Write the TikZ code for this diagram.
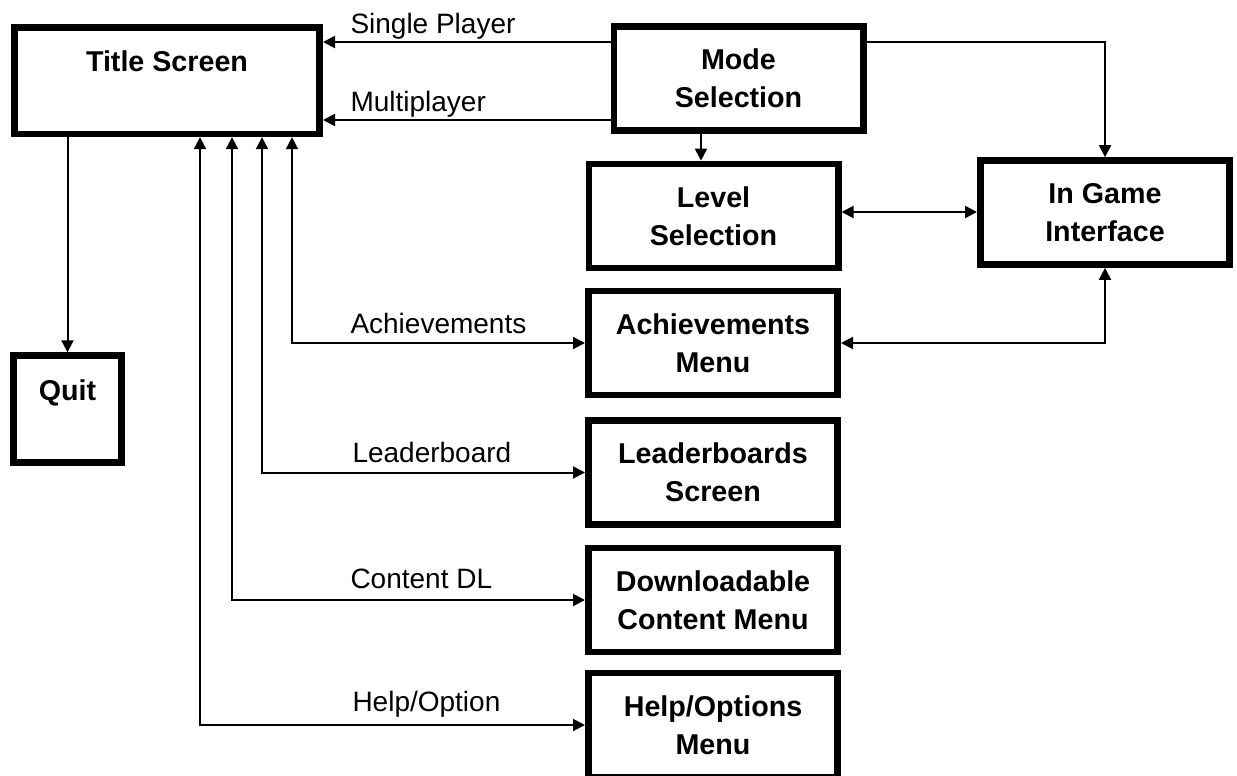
\documentclass[tikz,border=0pt]{standalone}
\usepackage{fontspec}
\setmainfont{Liberation Sans}
\usetikzlibrary{arrows.meta}

\tikzset{every picture/.style={line width=0.75pt}}
\tikzset{
  screen/.style={draw, line width=5pt, outer sep=2.5pt, inner sep=0pt, align=center,
    minimum width=187pt, minimum height=78pt, font=\fontsize{21.5}{28.5}\selectfont\bfseries},
  link/.style={line width=1.5pt, -{Triangle[length=9pt,width=9pt]}},
  twoway/.style={line width=1.5pt, {Triangle[length=9pt,width=9pt]}-{Triangle[length=9pt,width=9pt]}},
  lbl/.style={anchor=base west, inner sep=0pt, font=\fontsize{21}{25}\selectfont},
}

\begin{document}
\begin{tikzpicture}[x=0.75pt,y=0.75pt,yscale=-1]
\useasboundingbox (0,0) rectangle (1237,775);

%Screens
\node[screen, minimum width=229pt, minimum height=80pt] (title) at (167,80.5) {Title Screen\\\phantom{X}};
\node[screen] (mode) at (738.5,78.5) {Mode\\Selection};
\node[screen] (level) at (713.5,216) {Level\\Selection};
\node[screen] (ingame) at (1105,212.5) {In Game\\Interface};
\node[screen] (achiev) at (713,343) {Achievements\\Menu};
\node[screen] (leader) at (713,472.5) {Leaderboards\\Screen};
\node[screen] (dlc) at (713,600) {Downloadable\\Content Menu};
\node[screen] (help) at (713,725) {Help/Options\\Menu};
\node[screen, minimum width=81pt, minimum height=80pt] (quit) at (67.5,409) {Quit\\\phantom{X}};

%Rows and columns of the links
\coordinate (ysingle) at (0,42);
\coordinate (ymulti) at (0,120);
\coordinate (ylevel) at (0,212);
\coordinate (xlevel) at (701,0);
\coordinate (xachiev) at (292,0);
\coordinate (xleader) at (262,0);
\coordinate (xdlc) at (232,0);
\coordinate (xhelp) at (200,0);

%Mode selection links
\draw[link] (mode.west |- ysingle) -- (title.east |- ysingle);
\draw[link] (mode.west |- ymulti) -- (title.east |- ymulti);
\draw[link] (mode.east |- ysingle) -| (ingame.north);
\draw[link] (mode.south -| xlevel) -- (level.north -| xlevel);
\draw[twoway] (level.east |- ylevel) -- (ingame.west |- ylevel);
\draw[twoway] (ingame.south) |- (achiev.east);

%Title screen links
\draw[link] (title.south -| quit.north) -- (quit.north);
\draw[twoway] (title.south -| xachiev) |- (achiev.west);
\draw[twoway] (title.south -| xleader) |- (leader.west);
\draw[twoway] (title.south -| xdlc) |- (dlc.west);
\draw[twoway] (title.south -| xhelp) |- (help.west);

% Text Node
\node[lbl] (lsingle) at (350,33) {Single Player};
\node[lbl] (lmulti) at (350,111) {Multiplayer};
\node[lbl] (lachiev) at (350,333) {Achievements};
\node[lbl] (lleader) at (352,462) {Leaderboard};
\node[lbl] (ldlc) at (350,588) {Content DL};
\node[lbl] (lhelp) at (352,711) {Help/Option};

\end{tikzpicture}
\end{document}
